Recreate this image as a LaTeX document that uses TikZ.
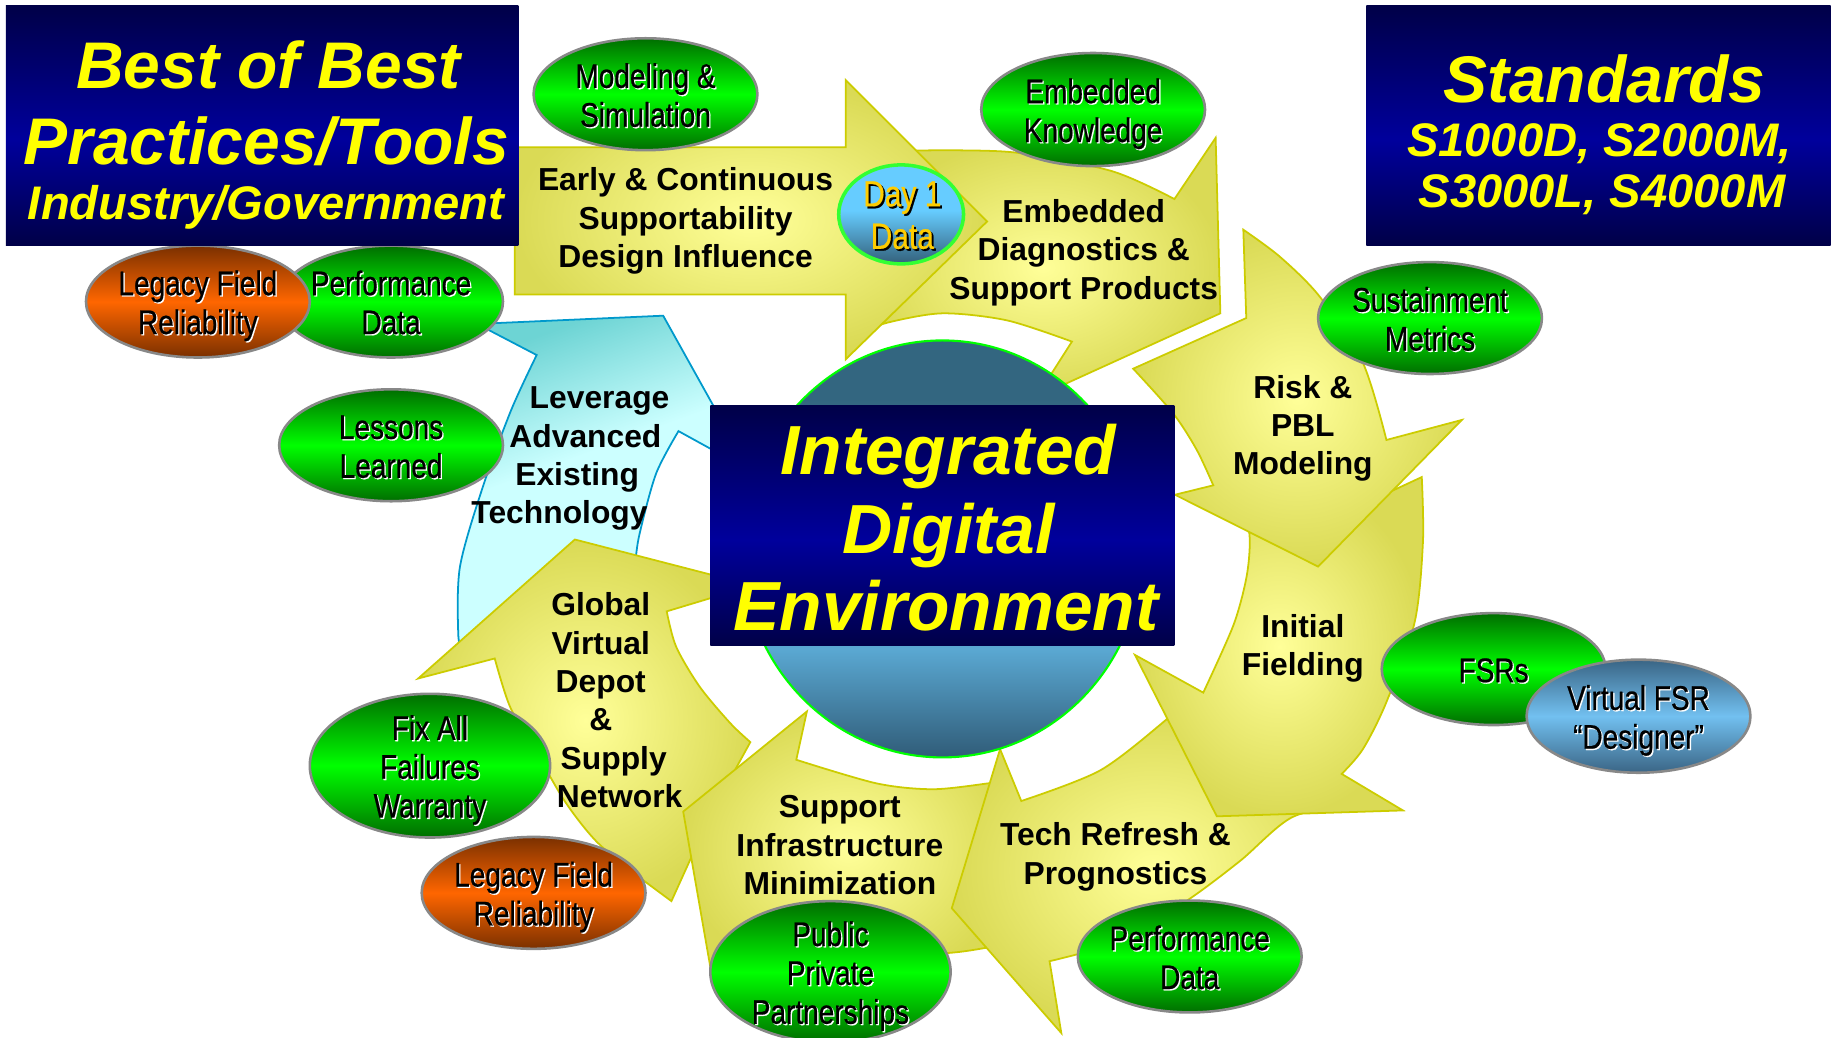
\documentclass[tikz,border=0pt]{standalone}
\usepackage{fontspec}
\setmainfont{Liberation Sans}
\newfontfamily\ellfont[FakeBold=0.6]{Liberation Sans}
\usetikzlibrary{shapes.geometric}
\definecolor{navyD}{HTML}{000048}
\definecolor{navyM}{HTML}{00009C}
\definecolor{ylL}{HTML}{FFFF99}
\definecolor{ylD}{HTML}{DADA55}
\definecolor{ylE}{HTML}{CCCC00}
\definecolor{cyL}{HTML}{CCFFFF}
\definecolor{cyD}{HTML}{5CCCCC}
\definecolor{cyE}{HTML}{0099CC}
\definecolor{grD}{HTML}{006E00}
\definecolor{grL}{HTML}{00FF00}
\definecolor{orD}{HTML}{7A3000}
\definecolor{orL}{HTML}{FF6600}
\definecolor{blD}{HTML}{3A6585}
\definecolor{blL}{HTML}{72C0F0}
\definecolor{ciT}{HTML}{336680}
\definecolor{ciM}{HTML}{5AA8D2}
\definecolor{ciB}{HTML}{305C78}
\definecolor{dayT}{HTML}{66CCFF}
\definecolor{dayB}{HTML}{33607A}
\definecolor{dayTx}{HTML}{FFCC00}
\definecolor{dayG}{HTML}{33FF33}
\definecolor{ringG}{HTML}{00FF00}
\definecolor{edgeG}{HTML}{888888}
\definecolor{ttlY}{HTML}{FFFF00}
\pgfdeclareverticalshading{circsh}{100bp}{color(0bp)=(ciB); color(25bp)=(ciB); color(38bp)=(ciM); color(68bp)=(ciT); color(100bp)=(ciT)}
\pgfdeclareverticalshading{navysh}{100bp}{color(0bp)=(navyD); color(25bp)=(navyD); color(47bp)=(navyM); color(75bp)=(navyD); color(100bp)=(navyD)}
\pgfdeclareverticalshading{daysh}{100bp}{color(0bp)=(dayB); color(25bp)=(dayB); color(52bp)=(dayT); color(75bp)=(dayT); color(100bp)=(dayT)}
\pgfdeclareverticalshading{cyansh}{100bp}{color(0bp)=(cyL); color(25bp)=(cyL); color(55bp)=(cyL); color(68bp)=(cyD!55!cyL); color(75bp)=(cyD!85!cyL); color(100bp)=(cyD!85!cyL)}
\newcommand\nar[1]{\scalebox{0.82}[1]{\strut#1}}
\tikzset{
  yarrow/.style={draw=ylE, line width=1.5pt, inner color=ylL, outer color=ylD},
  carrow/.style={draw=cyE, line width=1.5pt, shade, shading=cyansh, shading angle=20},
  bub/.style={ellipse, draw=edgeG, line width=2.2pt, inner sep=0pt},
  gbub/.style={bub, top color=grD, bottom color=grD, middle color=grL},
  obub/.style={bub, top color=orD, bottom color=orD, middle color=orL},
  bbub/.style={bub, top color=blD, bottom color=blD, middle color=blL},
  elbl/.style={align=center, font=\ellfont\fontsize{29}{33}\selectfont, inner sep=0pt, yshift=-4.5pt},
  dlbl/.style={align=center, font=\ellfont\fontsize{31}{36}\selectfont, inner sep=0pt, text=dayTx},
  albl/.style={align=center, font=\fontsize{27}{32.5}\selectfont\bfseries, inner sep=0pt, yshift=-2.5pt},
  ttl/.style={text=ttlY, anchor=base, inner sep=0pt},
  bigt/.style={ttl, font=\fontsize{56}{60}\selectfont\bfseries\itshape},
  midt/.style={ttl, font=\fontsize{40}{44}\selectfont\bfseries\itshape},
  cent/.style={ttl, font=\fontsize{59}{64}\selectfont\bfseries\itshape},
  navybox/.style={rectangle, inner sep=0pt, outer sep=0pt, shade, shading=navysh, draw=none},
}
\newcommand\bub[7]{%
  \node[#6, minimum width=#4pt, minimum height=#5pt] (#1) at (#2,#3) {};
  \node[elbl, text=white, xshift=1.1pt, yshift=-1.1pt] (#1s) at (#2,#3) {#7};
  \node[elbl] (#1t) at (#2,#3) {#7};}
\begin{document}
\begin{tikzpicture}[x=1pt,y=-1pt]
\useasboundingbox (0,0) rectangle (1568,881);
\fill[white] (0,0) rectangle (1568,881);

% cyan arrow (Leverage)
\path[carrow] (405,275) -- (563,268) -- (636,399) -- (576,366)
  -- plot[smooth] coordinates {(576,366) (557,402) (543,453) (539,480) (535,515)}
  -- (392,550)
  -- plot[smooth] coordinates {(392,550) (389,538) (390.5,481) (410,413) (434,348) (455.6,301.4)}
  -- cycle;

% G Global Virtual Depot
\path[yarrow] (488,458) -- (639,497) -- (566,519)
  -- plot[smooth] coordinates {(566,519) (574,549) (594,583) (620,614) (637,630)}
  -- (604,690) -- (570,765)
  -- plot[smooth] coordinates {(570,765) (538,741) (506,714) (480,681) (455,638) (433,600) (420,559)}
  -- (355,576) -- cycle;

% F Support Infrastructure
\path[yarrow] (860,800)
  -- plot[smooth] coordinates {(860,800) (835,805) (805,809) (740,812) (660,808) (618,803)}
  -- (606,838) -- (580,689) -- (685,604) -- (676,645)
  -- plot[smooth] coordinates {(676,645) (744,665) (792,670) (839,665) (850,663)}
  -- (835,740) -- cycle;

% E Tech Refresh
\path[yarrow] (1150,680)
  -- plot[smooth] coordinates {(1150,680) (1096.5,694) (1052.6,731) (1007,765) (950,799) (891,816)}
  -- (901,877) -- (808,771) -- (849,636) -- (867,680)
  -- plot[smooth] coordinates {(867,680) (934,654) (990,611) (1000,600)}
  -- (1060,640) -- cycle;

% D Initial Fielding
\path[yarrow] (1207,405)
  -- plot[smooth] coordinates {(1207,405) (1208,460) (1201,528) (1177,596) (1157,636) (1139,657)}
  -- (1191,688) -- (1033,693) -- (963.5,556) -- (1021.5,588)
  -- plot[smooth] coordinates {(1021.5,588) (1047,531) (1058,491) (1061,460) (1058,430)}
  -- (1110,450) -- cycle;

% C Risk & PBL
\path[yarrow] (1055.5,195) -- (1058,270) -- (962,313)
  -- plot[smooth] coordinates {(962,313) (996,351) (1016,382) (1030,412)}
  -- (997.5,420) -- (1119,481) -- (1241,356.5) -- (1177,373.5)
  -- plot[smooth] coordinates {(1177,373.5) (1157,308) (1120.5,252) (1086.6,218) (1055.5,195)}
  -- cycle;

% B Embedded Diagnostics
\path[yarrow] (760,128)
  -- plot[smooth] coordinates {(760,128) (857,129) (943,145) (997,169)}
  -- (1032,117) -- (1036,266) -- (880,337) -- (910,290)
  -- plot[smooth] coordinates {(910,290) (855,272) (800,266) (753,274) (735,282)}
  -- (815,195) -- cycle;

% A Early & Continuous
\path[yarrow] (437,125) -- (718,125) -- (718,68) -- (838,188) -- (718,305) -- (718,250) -- (437,250) -- cycle;

% central globe and box
\node[ellipse, minimum width=340pt, minimum height=354pt, inner sep=0pt, draw=ringG, line width=1.8pt, shade, shading=circsh] (globe) at (800,466) {};
\node[navybox, minimum width=394pt, minimum height=204pt] (ide) at (800,446) {};
\node[cent] (ide1) at (805,403) {Integrated};
\node[cent] (ide2) at (805,470) {Digital};
\node[cent] (ide3) at (803,535) {Environment};

% arrow labels
\node[albl] (ta) at (582,185) {Early \& Continuous\\Supportability\\Design Influence};
\node[albl] (tb) at (920,212) {Embedded\\Diagnostics \&\\Support Products};
\node[albl] (tc) at (1106,361) {Risk \&\\PBL\\Modeling};
\node[albl] (td) at (1106,548) {Initial\\Fielding};
\node[albl] (te) at (947,725) {Tech Refresh \&\\Prognostics};
\node[albl] (tf) at (713,715) {Support\\Infrastructure\\Minimization};
\node[albl] (tg) at (510,592) {Global\\Virtual\\Depot\\\&\\\hspace*{22pt}Supply\\\hspace*{32pt}Network};
\node[albl] (th) at (490,387) {\hspace*{38pt}Leverage\\\hspace*{14pt}Advanced\\Existing\hspace*{30pt}\\Technology\hspace*{30pt}};

% Day 1 Data
\node[ellipse, minimum width=106pt, minimum height=84pt, inner sep=0pt, draw=dayG, line width=3pt, shade, shading=daysh] (day) at (765,182) {};
\node[dlbl, text=black, xshift=1.6pt, yshift=-1.6pt] (days) at (766,186) {\nar{Day 1}\\\nar{Data}};
\node[dlbl] (dayt) at (766,186) {\nar{Day 1}\\\nar{Data}};

% bubbles
\bub{mod}{548}{80}{190}{95}{gbub}{\nar{Modeling \&}\\\nar{Simulation}}
\bub{emb}{928}{93}{190}{96}{gbub}{\nar{Embedded}\\\nar{Knowledge}}
\bub{perfa}{332}{256}{190}{95}{gbub}{\nar{Performance}\\\nar{Data}}
\bub{lega}{168}{256}{190}{95}{obub}{\nar{Legacy Field}\\\nar{Reliability}}
\bub{les}{332}{378}{190}{95}{gbub}{\nar{Lessons}\\\nar{Learned}}
\bub{sus}{1214}{270}{190}{95}{gbub}{\nar{Sustainment}\\\nar{Metrics}}
\bub{fsr}{1268}{568}{190}{95}{gbub}{\nar{FSRs}}
\bub{vfsr}{1391}{608}{190}{96}{bbub}{\nar{Virtual FSR}\\\nar{“Designer”}}
\bub{fix}{365}{650}{204}{122}{gbub}{\nar{Fix All}\\\nar{Failures}\\\nar{Warranty}}
\bub{legb}{453}{758}{190}{95}{obub}{\nar{Legacy Field}\\\nar{Reliability}}
\bub{pub}{705}{825}{204}{120}{gbub}{\nar{Public}\\\nar{Private}\\\nar{Partnerships}}
\bub{perfb}{1010}{812}{190}{95}{gbub}{\nar{Performance}\\\nar{Data}}

% title boxes
\node[navybox, minimum width=435pt, minimum height=203pt] (bob) at (222.5,106.5) {};
\node[bigt] (bob1) at (228,75) {Best of Best};
\node[bigt] (bob2) at (226,140) {Practices/Tools};
\node[midt] (bob3) at (226,186) {Industry/Government};

\node[navybox, minimum width=394pt, minimum height=203pt] (std) at (1357,106.5) {};
\node[bigt] (std1) at (1362,87) {Standards};
\node[midt] (std2) at (1358,133) {S1000D, S2000M,};
\node[midt] (std3) at (1360,176) {S3000L, S4000M};
\end{tikzpicture}
\end{document}
